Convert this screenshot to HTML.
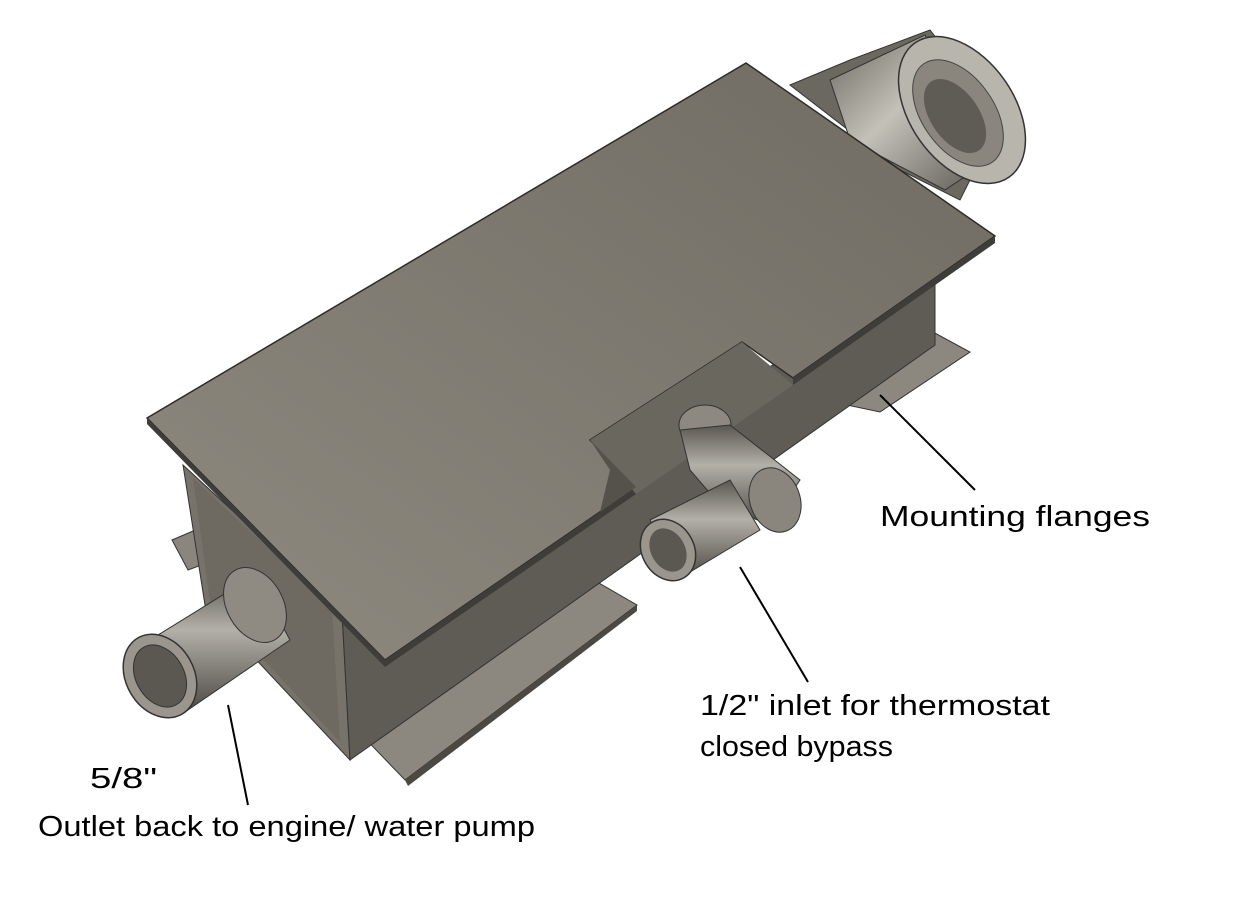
<!DOCTYPE html>
<html><head><meta charset="utf-8"><style>
html,body{margin:0;padding:0;background:#fff;width:1252px;height:900px;overflow:hidden}
svg{display:block}
text{font-family:"Liberation Sans",sans-serif;font-size:29px;fill:#000}
</style></head><body>
<svg width="1252" height="900" viewBox="0 0 1252 900" xmlns="http://www.w3.org/2000/svg">
<defs>
<linearGradient id="top" x1="0" y1="1" x2="1" y2="0">
<stop offset="0" stop-color="#8e8a80"/><stop offset="1" stop-color="#6f6b62"/></linearGradient>
<linearGradient id="pipe" x1="0" y1="0" x2="0" y2="1">
<stop offset="0" stop-color="#5a5750"/><stop offset="0.4" stop-color="#b3b0a8"/><stop offset="1" stop-color="#4d4a44"/></linearGradient>
<linearGradient id="capg" x1="0" y1="0" x2="1" y2="1">
<stop offset="0" stop-color="#6a675f"/><stop offset="0.45" stop-color="#c4c1b9"/><stop offset="1" stop-color="#5a5750"/></linearGradient>
</defs>
<!-- flanges -->
<polygon points="172,540 200,528 215,560 188,570" fill="#8a867d" stroke="#333" stroke-width="1"/>
<polygon points="355,728 585,575 637,605 405,780" fill="#8c887f" stroke="#333" stroke-width="1"/>
<polygon points="405,780 637,605 637,611 408,786" fill="#4c4943"/>
<polygon points="800,395 920,325 970,352 880,412" fill="#8c887f" stroke="#333" stroke-width="1"/>
<!-- box end face -->
<polygon points="183,465 342,612 350,760 205,605" fill="#77736a" stroke="#333" stroke-width="1"/>
<polygon points="193,478 332,608 340,742 210,602" fill="#6e6a62"/>
<!-- box front long face -->
<polygon points="342,612 935,272 935,345 350,760" fill="#5f5c55" stroke="#333" stroke-width="1"/>
<!-- left outlet pipe -->
<polygon points="150,640 255,575 290,640 185,712" fill="url(#pipe)" stroke="#333" stroke-width="1"/>
<ellipse cx="255" cy="605" rx="28" ry="40" transform="rotate(-30 255 605)" fill="#8f8b82" stroke="#333"/>
<ellipse cx="160" cy="676" rx="34" ry="44" transform="rotate(-30 160 676)" fill="#9a968e" stroke="#333" stroke-width="1.5"/>
<ellipse cx="160" cy="676" rx="24" ry="33" transform="rotate(-30 160 676)" fill="#5b5851" stroke="#333"/>
<!-- top-right cap -->
<polygon points="790,85 850,60 930,30 1000,120 960,200 900,170" fill="#6b6860" stroke="#333"/>
<polygon points="830,80 925,35 990,160 945,190 850,140" fill="url(#capg)" stroke="#333"/>
<ellipse cx="962" cy="110" rx="52" ry="82" transform="rotate(-35 962 110)" fill="#b8b5ad" stroke="#333" stroke-width="1.5"/>
<ellipse cx="958" cy="113" rx="36" ry="60" transform="rotate(-35 958 113)" fill="#8a867e" stroke="#444"/>
<ellipse cx="955" cy="116" rx="24" ry="42" transform="rotate(-35 955 116)" fill="#5f5c55"/>
<!-- top plate -->
<polygon points="147,418 746,63 995,236 793,378 742,342 590,440 636,487 385,660" fill="url(#top)" stroke="#2e2c29" stroke-width="1.5"/>
<polygon points="147,418 385,660 385,667 147,424" fill="#3f3d39"/>
<polygon points="385,660 636,487 636,494 385,667" fill="#3f3d39"/>
<polygon points="793,378 995,236 995,243 793,385" fill="#3f3d39"/>
<!-- notch interior -->
<polygon points="742,342 793,385 750,415 636,494 590,440" fill="#6a675f"/>
<polygon points="590,440 636,487 600,512 610,470" fill="#55524b"/>
<!-- bypass elbow -->
<ellipse cx="705" cy="425" rx="26" ry="20" fill="#8d8980" stroke="#333"/>
<polygon points="680,430 730,425 800,480 770,525 720,505 690,470" fill="url(#pipe)" stroke="#333"/>
<ellipse cx="775" cy="500" rx="25" ry="33" transform="rotate(-20 775 500)" fill="#8a867e" stroke="#333"/>
<polygon points="650,520 730,480 760,530 680,578" fill="url(#pipe)" stroke="#333"/>
<ellipse cx="668" cy="550" rx="26" ry="32" transform="rotate(-30 668 550)" fill="#9a968e" stroke="#333" stroke-width="1.5"/>
<ellipse cx="668" cy="550" rx="17" ry="23" transform="rotate(-30 668 550)" fill="#5b5851"/>
<!-- leader lines -->
<line x1="880" y1="395" x2="975" y2="490" stroke="#000" stroke-width="2"/>
<line x1="740" y1="567" x2="808" y2="682" stroke="#000" stroke-width="2"/>
<line x1="228" y1="705" x2="248" y2="805" stroke="#000" stroke-width="2"/>
<!-- labels -->
<text x="880" y="526" textLength="270" lengthAdjust="spacingAndGlyphs">Mounting flanges</text>
<text x="700" y="715" textLength="350" lengthAdjust="spacingAndGlyphs">1/2" inlet for thermostat</text>
<text x="700" y="756" textLength="193" lengthAdjust="spacingAndGlyphs">closed bypass</text>
<text x="90" y="788" textLength="67" lengthAdjust="spacingAndGlyphs">5/8"</text>
<text x="38" y="836" textLength="497" lengthAdjust="spacingAndGlyphs">Outlet back to engine/ water pump</text>
</svg>
</body></html>
